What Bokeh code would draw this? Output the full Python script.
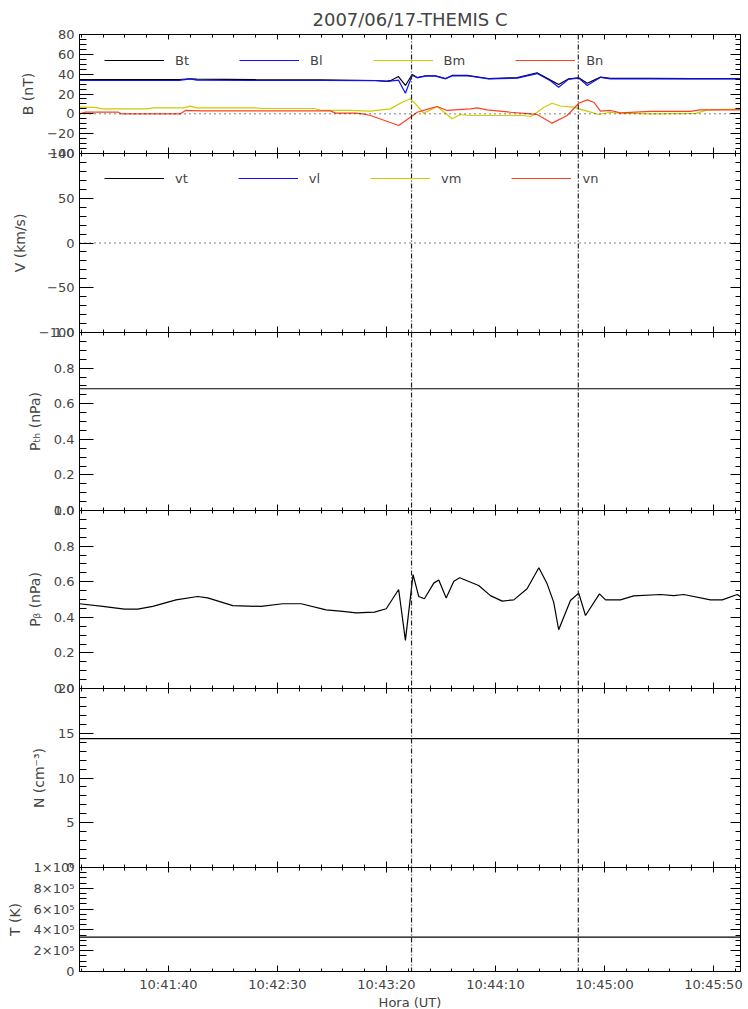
import numpy as np
from bokeh.plotting import figure
from bokeh.layouts import column
from bokeh.models import (Range1d, LinearAxis, FixedTicker, Span, Legend, LegendItem,
                          CustomLabelingPolicy)
from bokeh.embed import file_html
from bokeh.resources import INLINE

# ---------------- data (time in seconds after 10:40:00 UT) ----------------
time_ticks = [100, 150, 200, 250, 300, 350]
time_tick_labels = ["10:41:40", "10:42:30", "10:43:20", "10:44:10", "10:45:00", "10:45:50"]
time_start, time_end = 59.2, 362.4
event_times = [211.5, 288.0]

btbl_time = [59.2, 80, 105, 110, 113, 140, 170, 195, 200, 201.8, 205.5, 208.7, 211.8, 214.1,
             217.9, 222.5, 227.1, 230.1, 237.0, 246.8, 260.0, 269.1, 275.2, 279.0, 283.6, 288.2,
             292.1, 298.2, 302.8, 320, 340, 362.4]
Bt = [34.4, 34.4, 34.6, 35.4, 35.0, 34.4, 34.2, 33.6, 33.0, 33.4, 37.6, 28.6, 39.7, 36.6,
      38.4, 38.4, 35.6, 38.7, 38.7, 35.6, 36.5, 41.4, 34.0, 29.6, 35.3, 36.3,
      30.9, 37.0, 35.8, 35.8, 35.6, 35.6]
Bl = [33.6, 33.6, 33.8, 35.2, 34.0, 33.6, 33.6, 33.4, 32.6, 33.0, 34.0, 20.8, 38.9, 36.3,
      38.1, 38.1, 35.3, 38.3, 38.4, 35.3, 36.0, 40.6, 33.4, 26.9, 35.0, 36.0,
      28.6, 36.8, 35.3, 35.3, 35.3, 35.3]
bm_time = [59.2, 66, 70, 90, 93, 107, 110, 113, 140, 143, 167, 170, 183, 192.7, 201.8, 207.2,
           211.0, 213.3, 217.1, 223.3, 230.1, 233.9, 238.5, 262.8, 266.1, 267.6, 272.2, 276.0,
           279.8, 285.9, 288.2, 292.1, 297.4, 302.8, 307.3, 321.1, 334.9, 342, 347.2, 362.4]
Bm = [6.7, 6.5, 5.0, 5.0, 6.0, 6.0, 7.7, 6.0, 6.0, 5.4, 5.4, 3.4, 3.4, 2.7, 5.0, 11.7,
      15.2, 10.1, 0.6, 7.4, -5.0, -0.7, -1.7, -1.7, -2.7, -1.0, 6.7, 10.7,
      7.9, 6.7, 5.0, 2.7, -0.7, 1.6, 0.6, 0.0, 0.3, 0.5, 4.0, 4.7]
bn_time = [59.2, 62, 68.8, 77.1, 78.4, 105.5, 107.8, 114.7, 174.3, 176.6, 185.8, 189.0, 192.7,
           205.6, 211.0, 214.1, 219.4, 223.3, 227.8, 238.5, 241.6, 246.2, 256.9, 266.1, 269.1,
           276.0, 282.9, 288.2, 292.1, 295.1, 298.2, 302.8, 307.3, 321.1, 339.4, 344.0, 362.4]
Bn = [0.0, 1.7, 1.7, 1.7, 0.0, 0.0, 3.4, 3.0, 3.0, 0.7, 0.7, 0.0, -1.7,
      -11.8, -3.4, 1.6, 5.0, 7.4, 3.4, 5.0, 6.0, 4.0, 1.6, 0.0, -0.7,
      -9.4, -1.7, 10.7, 14.1, 11.7, 2.7, 3.4, 1.0, 2.4, 2.4, 4.0, 4.0]

# velocity: no valid samples in this interval (missing data)
v_time = [59.2, 362.4]
vt = [float("nan"), float("nan")]
vl = [float("nan"), float("nan")]
vm = [float("nan"), float("nan")]
vn = [float("nan"), float("nan")]

pth_time = [59.2, 362.4]
Pth = [0.684, 0.684]

pb_time = [59.2, 69.9, 79.8, 85.9, 92.8, 103.5, 113.4, 118.0, 129.5, 142.5, 152.4, 160.9, 172.3,
           180.0, 186.1, 194.5, 199.9, 205.6, 208.7, 212.2, 214.8, 217.4, 221.7, 224.0, 227.4,
           230.9, 233.6, 242.3, 247.7, 253.1, 258.4, 264.5, 269.9, 273.7, 276.7, 279.0, 284.4,
           288.2, 291.3, 297.7, 300.5, 307.3, 313.4, 325.7, 331.8, 336.4, 348.6, 354.0, 360.9, 362.4]
PB = [0.476, 0.461, 0.446, 0.446, 0.461, 0.498, 0.517, 0.509, 0.466, 0.461, 0.476, 0.476, 0.442,
      0.433, 0.425, 0.429, 0.448, 0.556, 0.270, 0.640, 0.517, 0.504, 0.592, 0.610, 0.509,
      0.603, 0.622, 0.579, 0.522, 0.491, 0.498, 0.560, 0.678, 0.588, 0.485, 0.330, 0.494,
      0.536, 0.410, 0.532, 0.498, 0.498, 0.520, 0.528, 0.522, 0.528, 0.498, 0.498, 0.528, 0.515]

n_time = [59.2, 362.4]
N = [14.4, 14.4]
temp_time = [59.2, 362.4]
T = [3.3e5, 3.3e5]

B_ticks = [-40, -20, 0, 20, 40, 60, 80]
B_tick_labels = ["−40", "−20", "0", "20", "40", "60", "80"]
V_ticks = [-100, -50, 0, 50, 100]
V_tick_labels = ["−100", "−50", "0", "50", "100"]
P_ticks = [0.0, 0.2, 0.4, 0.6, 0.8, 1.0]
P_tick_labels = ["0.0", "0.2", "0.4", "0.6", "0.8", "1.0"]
N_ticks = [0, 5, 10, 15, 20]
N_tick_labels = ["0", "5", "10", "15", "20"]
T_ticks = [0, 2e5, 4e5, 6e5, 8e5, 1e6]
T_tick_labels = ["0", "2×10⁵", "4×10⁵", "6×10⁵", "8×10⁵", "1×10⁶"]

# ---------------- styling ----------------
FONT = "DejaVu Sans"
C_T, C_L, C_M, C_N = "black", "#1010ff", "#cccc00", "#ff4020"
LW = 1.2
FRAME_W = 661
GAP = 10  # overlapping border so edge tick labels are not clipped

x_range = Range1d(time_start, time_end)
x_minor = list(np.arange(60, 363, 10))


def hidden_labels(ax):
    ax.major_label_policy = CustomLabelingPolicy(code="return []")
    ax.major_label_text_font_size = "1px"
    ax.major_label_standoff = 0


def make_panel(yr, y_ticks, y_labels, minor_step, frame_h, ylabel,
               top=GAP, bottom=GAP, first=False, last=False):
    p = figure(x_range=x_range, y_range=Range1d(*yr), frame_width=FRAME_W, frame_height=frame_h,
               min_border_left=79, min_border_right=2, min_border_top=top,
               min_border_bottom=bottom, x_axis_location=None, y_axis_location=None,
               output_backend="svg", toolbar_location=None)
    p.xgrid.visible = False
    p.ygrid.visible = False
    p.outline_line_color = None
    p.background_fill_color = None
    p.border_fill_color = None
    if not first:
        p.margin = (-2 * GAP, 0, 0, 0)
    y_minor = list(np.arange(yr[0], yr[1] + minor_step / 2, minor_step))
    yt = FixedTicker(ticks=y_ticks, minor_ticks=y_minor)
    xt = FixedTicker(ticks=time_ticks, minor_ticks=x_minor)

    left = LinearAxis(ticker=yt, axis_label=ylabel, axis_label_standoff=8,
                      major_label_overrides=dict(zip(y_ticks, y_labels)))
    left.major_tick_in, left.major_tick_out = 14, 0
    left.minor_tick_in, left.minor_tick_out = 7, 0
    left.major_label_standoff = 5
    left.major_label_text_font = FONT
    left.major_label_text_font_size = "13px"
    left.axis_label_text_font = FONT
    left.axis_label_text_font_size = "14px"
    left.axis_label_text_font_style = "normal"
    p.add_layout(left, "left")

    right = LinearAxis(ticker=yt)
    hidden_labels(right)
    right.major_tick_in, right.major_tick_out = 10, 0
    right.minor_tick_in, right.minor_tick_out = 5, 0
    p.add_layout(right, "right")

    above = LinearAxis(ticker=xt)
    hidden_labels(above)
    above.major_tick_in, above.major_tick_out = 5, 0
    above.minor_tick_in, above.minor_tick_out = 3, 0
    p.add_layout(above, "above")

    if last:
        below = LinearAxis(ticker=xt, axis_label="Hora (UT)", axis_label_standoff=0,
                           major_label_overrides=dict(zip(time_ticks, time_tick_labels)))
        below.major_label_standoff = 5
        below.major_label_text_font = FONT
        below.major_label_text_font_size = "13px"
        below.axis_label_text_font = FONT
        below.axis_label_text_font_size = "13px"
        below.axis_label_text_font_style = "normal"
    else:
        below = LinearAxis(ticker=xt)
        hidden_labels(below)
    below.major_tick_in, below.major_tick_out = 6, 0
    below.minor_tick_in, below.minor_tick_out = 3, 0
    p.add_layout(below, "below")

    for ev in event_times:
        p.add_layout(Span(location=ev, dimension="height", line_color="#222222",
                          line_width=1.2, line_dash="5 2 1 2"))
    return p


def add_legend(p, renderers, labels, y):
    items = [LegendItem(label=l, renderers=[r]) for l, r in zip(labels, renderers)]
    lg = Legend(items=items, orientation="horizontal", location=(25, y),
                glyph_width=60, glyph_height=12, label_standoff=11, spacing=50,
                padding=0, margin=0, border_line_color=None, background_fill_alpha=0,
                label_text_font=FONT, label_text_font_size="13px", label_height=12,
                label_width=0)
    p.add_layout(lg)


def zero_line(p):
    p.add_layout(Span(location=0, dimension="width", line_color="black",
                      line_width=1, line_dash="1 4"))


# Panel 1: B
p1 = make_panel((-40, 80), B_ticks, B_tick_labels, 5, 119, "B (nT)", top=34, first=True)
p1.title.text = "2007/06/17-THEMIS C"
p1.title.align = "center"
p1.title.text_font = FONT
p1.title.text_font_size = "18px"
p1.title.text_font_style = "normal"
p1.title.standoff = 2
zero_line(p1)
r_bt = p1.line(btbl_time, Bt, line_color=C_T, line_width=LW)
r_bl = p1.line(btbl_time, Bl, line_color=C_L, line_width=LW)
r_bm = p1.line(bm_time, Bm, line_color=C_M, line_width=LW)
r_bn = p1.line(bn_time, Bn, line_color=C_N, line_width=LW)
add_legend(p1, [r_bt, r_bl, r_bm, r_bn], ["Bt", "Bl", "Bm", "Bn"], 119 - 26 - 7.5)

# Panel 2: V
p2 = make_panel((-100, 100), V_ticks, V_tick_labels, 10, 179, "V (km/s)")
zero_line(p2)
r_vt = p2.line(v_time, vt, line_color=C_T, line_width=LW)
r_vl = p2.line(v_time, vl, line_color=C_L, line_width=LW)
r_vm = p2.line(v_time, vm, line_color=C_M, line_width=LW)
r_vn = p2.line(v_time, vn, line_color=C_N, line_width=LW)
add_legend(p2, [r_vt, r_vl, r_vm, r_vn], ["vt", "vl", "vm", "vn"], 179 - 25 - 7.5)

# Panel 3: P_th
p3 = make_panel((0, 1), P_ticks, P_tick_labels, 0.05, 178, "Pₜₕ (nPa)")
p3.line(pth_time, Pth, line_color="black", line_width=LW)

# Panel 4: P_B
p4 = make_panel((0, 1), P_ticks, P_tick_labels, 0.05, 178, "Pᵦ (nPa)")
p4.line(pb_time, PB, line_color="black", line_width=LW)

# Panel 5: N
p5 = make_panel((0, 20), N_ticks, N_tick_labels, 1, 179, "N (cm⁻³)")
p5.line(n_time, N, line_color="black", line_width=LW)

# Panel 6: T
p6 = make_panel((0, 1e6), T_ticks, T_tick_labels, 5e4, 104, "T (K)", bottom=0, last=True)
p6.line(temp_time, T, line_color="black", line_width=LW)

layout = column(p1, p2, p3, p4, p5, p6, spacing=0)
open("out.html", "w").write(file_html(layout, INLINE))
